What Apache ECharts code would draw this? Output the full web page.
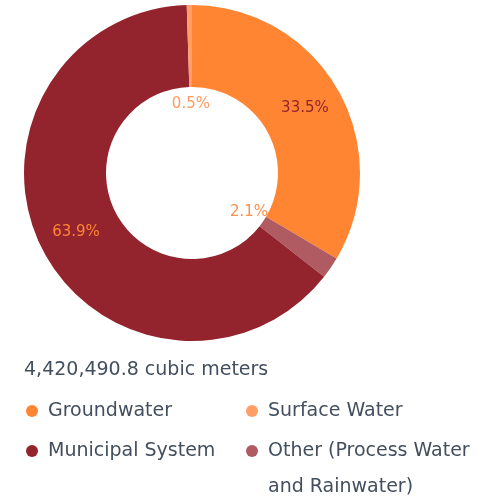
<!DOCTYPE html>
<html>
<head>
<meta charset="utf-8">
<script src="https://cdn.jsdelivr.net/npm/echarts@6/dist/echarts.min.js"></script>
<style>
  html, body { margin: 0; padding: 0; background: #fff; }
  #chart { width: 485px; height: 499px; }
</style>
</head>
<body>
<div id="chart"></div>
<script>
// slice order as drawn clockwise from 12 o'clock
const sliceNames = ['Groundwater', 'Other (Process Water and Rainwater)', 'Municipal System', 'Surface Water']
const sliceValues = [33.5, 2.1, 63.9, 0.5]
const sliceColors = ['#ff8533', '#b05a62', '#93242d', '#ff9e66']
const labelColors = ['#93242d', '#f89050', '#ff8533', '#ff9a60']
const legendOrder = ['Groundwater', 'Surface Water', 'Municipal System', 'Other (Process Water and Rainwater)']
const totalText = '4,420,490.8 cubic meters'

const FONT = '"DejaVu Sans", sans-serif'
const TEXT_COLOR = '#434f5e'

const chart = echarts.init(document.getElementById('chart'))

const isSmall = v => v < 5

const option = {
  animation: false,
  title: {
    text: totalText,
    left: 19,
    top: 356,
    textStyle: { fontFamily: FONT, fontSize: 19, fontWeight: 'normal', color: TEXT_COLOR }
  },
  legend: {
    left: 21,
    top: 388,
    width: 460,
    icon: 'circle',
    itemWidth: 12,
    itemHeight: 12,
    itemGap: 4,
    data: legendOrder,
    // leading blank line keeps the first text line level with the icon
    formatter: n => n.startsWith('Other') ? '\n' + n.replace('Process Water ', 'Process Water\n') : n,
    textStyle: {
      fontFamily: FONT, fontSize: 19, color: TEXT_COLOR,
      lineHeight: 36, width: 194, padding: [0, 0, 0, 5]
    }
  },
  series: [
    {
      type: 'pie',
      center: [192, 173],
      radius: [86, 168],
      startAngle: 90,
      clockwise: true,
      labelLine: { show: false },
      emphasis: { disabled: true },
      data: sliceNames.map((n, i) => ({
        name: n,
        value: sliceValues[i],
        itemStyle: { color: sliceColors[i] },
        label: {
          show: !isSmall(sliceValues[i]),
          position: 'inside',
          formatter: p => p.value.toFixed(1) + '%',
          color: labelColors[i],
          fontFamily: FONT,
          fontSize: 15
        }
      }))
    },
    {
      // helper ring just inside the hole, carries the labels of the thin slices
      type: 'pie',
      center: [192, 173],
      radius: [50, 82],
      startAngle: 90,
      clockwise: true,
      silent: true,
      labelLine: { show: false },
      data: sliceNames.map((n, i) => ({
        name: n,
        value: sliceValues[i],
        itemStyle: { color: 'rgba(0,0,0,0)' },
        label: {
          show: isSmall(sliceValues[i]),
          position: 'inside',
          formatter: p => p.value.toFixed(1) + '%',
          color: labelColors[i],
          fontFamily: FONT,
          fontSize: 15
        }
      }))
    }
  ]
}

chart.setOption(option)
</script>
</body>
</html>
